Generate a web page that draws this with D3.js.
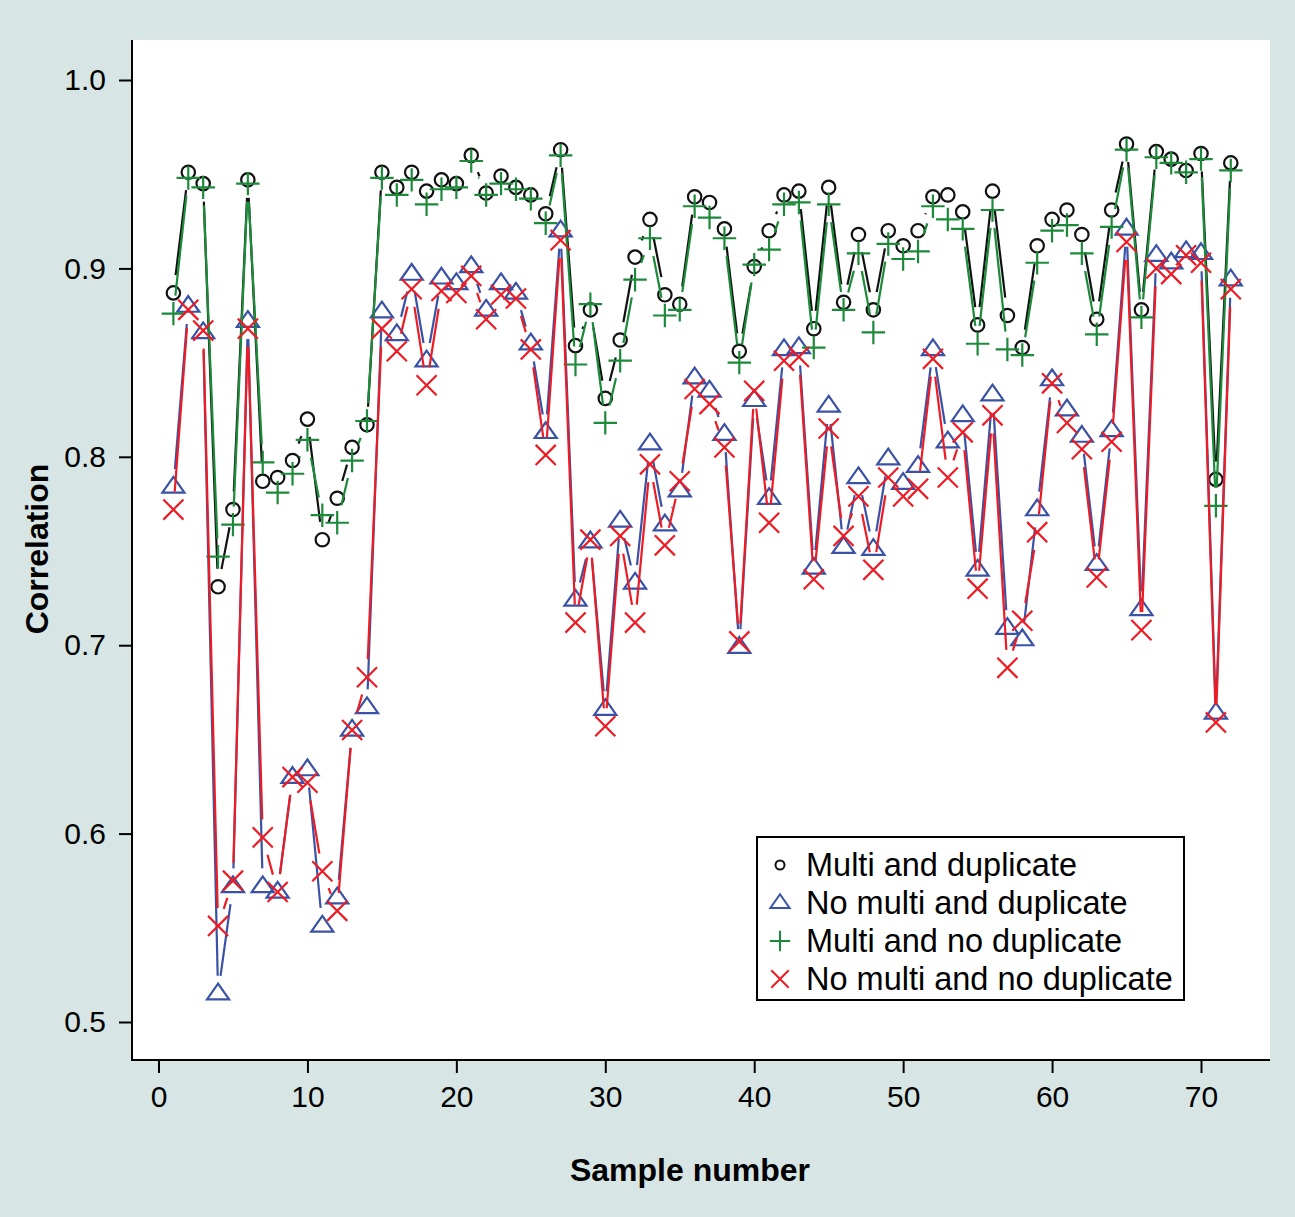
<!DOCTYPE html>
<html>
<head>
<meta charset="utf-8">
<script src="https://cdn.jsdelivr.net/npm/d3@7"></script>
<style>
  body { margin: 0; background: #d7e6e5; }
  svg { display: block; font-family: "Liberation Sans", Arial, sans-serif; }
</style>
</head>
<body>
<div id="chart"></div>
<script>
var svgWidth = 1295;
var svgHeight = 1217;

// sample numbers 1..72
var samples = [1,2,3,4,5,6,7,8,9,10,11,12,13,14,15,16,17,18,19,20,21,22,23,24,25,26,27,28,29,30,31,32,33,34,35,36,
  37,38,39,40,41,42,43,44,45,46,47,48,49,50,51,52,53,54,55,56,57,58,59,60,61,62,63,64,65,66,67,68,69,70,71,72];

var multiDup = [0.887,0.951,0.945,0.731,0.772,0.947,0.787,0.789,0.798,0.820,0.756,0.778,0.805,0.817,0.951,0.943,
  0.951,0.941,0.947,0.945,0.960,0.940,0.949,0.943,0.939,0.929,0.963,0.859,0.878,0.831,0.862,0.906,0.926,0.886,0.881,
  0.938,0.935,0.921,0.856,0.901,0.920,0.939,0.941,0.868,0.943,0.882,0.918,0.878,0.920,0.912,0.920,0.938,0.939,0.930,
  0.870,0.941,0.875,0.858,0.912,0.926,0.931,0.918,0.873,0.931,0.966,0.878,0.962,0.958,0.952,0.961,0.788,0.956];

var noMultiDup = [0.784,0.880,0.866,0.515,0.572,0.872,0.572,0.569,0.630,0.634,0.551,0.566,0.655,0.667,0.877,0.865,
  0.897,0.851,0.895,0.892,0.901,0.878,0.892,0.887,0.860,0.813,0.920,0.724,0.755,0.666,0.766,0.733,0.807,0.764,0.782,
  0.842,0.835,0.812,0.699,0.830,0.778,0.857,0.858,0.741,0.827,0.752,0.789,0.751,0.799,0.786,0.795,0.857,0.808,0.822,
  0.740,0.833,0.709,0.703,0.772,0.841,0.825,0.811,0.743,0.814,0.921,0.719,0.907,0.903,0.909,0.908,0.664,0.894];

var multiNoDup = [0.876,0.948,0.943,0.747,0.764,0.945,0.797,0.781,0.791,0.809,0.769,0.765,0.798,0.819,0.948,0.939,
  0.947,0.934,0.942,0.943,0.957,0.939,0.945,0.942,0.937,0.924,0.960,0.849,0.881,0.818,0.851,0.894,0.916,0.875,0.878,
  0.933,0.927,0.916,0.850,0.902,0.910,0.934,0.935,0.858,0.934,0.878,0.908,0.866,0.913,0.905,0.909,0.933,0.926,0.921,
  0.860,0.931,0.857,0.854,0.903,0.920,0.923,0.908,0.865,0.922,0.963,0.874,0.959,0.956,0.951,0.958,0.774,0.952];

var noMultiNoDup = [0.772,0.878,0.867,0.551,0.575,0.868,0.598,0.569,0.630,0.627,0.580,0.559,0.655,0.683,0.868,0.856,
  0.889,0.838,0.888,0.887,0.896,0.873,0.886,0.884,0.857,0.801,0.915,0.712,0.756,0.657,0.758,0.712,0.796,0.753,0.787,
  0.836,0.828,0.805,0.702,0.835,0.765,0.851,0.853,0.735,0.815,0.758,0.779,0.740,0.789,0.779,0.783,0.852,0.789,0.813,
  0.730,0.822,0.688,0.713,0.760,0.839,0.818,0.804,0.736,0.808,0.914,0.708,0.900,0.897,0.907,0.903,0.659,0.889];

var seriesNames = ["Multi and duplicate", "No multi and duplicate", "Multi and no duplicate", "No multi and no duplicate"];
var seriesColors = ["#111111", "#3a52a6", "#1c8a3a", "#ec1c24"];
var seriesShapes = ["circle", "triangle", "plus", "cross"];
var seriesValues = [multiDup, noMultiDup, multiNoDup, noMultiNoDup];

var xTicks = [0, 10, 20, 30, 40, 50, 60, 70];
var yTicks = [0.5, 0.6, 0.7, 0.8, 0.9, 1.0];

var panel = { left: 132, right: 1270, top: 40, bottom: 1060 };

var svg = d3.select("#chart")
  .append("svg")
  .attr("width", svgWidth)
  .attr("height", svgHeight);

svg.append("rect")
  .attr("width", svgWidth)
  .attr("height", svgHeight)
  .attr("fill", "#d7e6e5");

svg.append("rect")
  .attr("x", panel.left)
  .attr("y", panel.top)
  .attr("width", panel.right - panel.left)
  .attr("height", panel.bottom - panel.top)
  .attr("fill", "#ffffff");

var xScale = d3.scaleLinear().domain([0, 70]).range([158.5, 1201]);
var yScale = d3.scaleLinear().domain([0.5, 1.0]).range([1022, 80]);

// axes: ticks outside, box only on left and bottom
var xAxis = svg.append("g")
  .attr("transform", `translate(0, ${panel.bottom})`)
  .call(d3.axisBottom(xScale).tickValues(xTicks).tickSize(13).tickPadding(13).tickFormat(d3.format("d")));
xAxis.select(".domain").remove();

var yAxis = svg.append("g")
  .attr("transform", `translate(${panel.left}, 0)`)
  .call(d3.axisLeft(yScale).tickValues(yTicks).tickSize(13).tickPadding(13).tickFormat(d3.format(".1f")));
yAxis.select(".domain").remove();

svg.selectAll(".tick line").attr("stroke", "#000").attr("stroke-width", 2);
svg.selectAll(".tick text")
  .attr("fill", "#000")
  .style("font-size", "30px")
  .style("font-family", "Liberation Sans, Arial, sans-serif");

svg.append("path")
  .attr("d", `M${panel.left},${panel.top}V${panel.bottom}H${panel.right}`)
  .attr("fill", "none")
  .attr("stroke", "#000")
  .attr("stroke-width", 2);

// axis titles
svg.append("text")
  .attr("x", 690)
  .attr("y", 1181)
  .attr("text-anchor", "middle")
  .style("font-size", "32px")
  .style("font-weight", "bold")
  .text("Sample number");

svg.append("text")
  .attr("transform", "translate(48, 549) rotate(-90)")
  .attr("text-anchor", "middle")
  .style("font-size", "32px")
  .style("font-weight", "bold")
  .text("Correlation");

// marker path for a shape of a given size
function markerPath(shape, s) {
  if (shape === "circle") {
    return `M${-s},0A${s},${s} 0 1,0 ${s},0A${s},${s} 0 1,0 ${-s},0Z`;
  }
  if (shape === "triangle") {
    var w = s * 1.65, top = -s * 1.5, bot = s * 0.85;
    return `M0,${top}L${w},${bot}L${-w},${bot}Z`;
  }
  if (shape === "plus") {
    var p = s * 1.75;
    return `M${-p},0H${p}M0,${-p}V${p}`;
  }
  var c = s * 1.5;
  return `M${-c},${-c}L${c},${c}M${-c},${c}L${c},${-c}`;
}

var gap = 18;
var plotGroup = svg.append("g");

seriesValues.forEach(function(values, k) {
  var pts = samples.map((s, i) => [xScale(s), yScale(values[i])]);
  var segs = [];
  for (var i = 0; i < pts.length - 1; i++) {
    var dx = pts[i + 1][0] - pts[i][0];
    var dy = pts[i + 1][1] - pts[i][1];
    var d = Math.sqrt(dx * dx + dy * dy);
    if (d > 2 * gap) {
      var ux = dx / d, uy = dy / d;
      segs.push([pts[i][0] + ux * gap, pts[i][1] + uy * gap,
        pts[i + 1][0] - ux * gap, pts[i + 1][1] - uy * gap]);
    }
  }

  var g = plotGroup.append("g");

  g.selectAll("line")
    .data(segs)
    .enter()
    .append("line")
    .attr("x1", d => d[0])
    .attr("y1", d => d[1])
    .attr("x2", d => d[2])
    .attr("y2", d => d[3])
    .attr("stroke", seriesColors[k])
    .attr("stroke-width", 2.2);

  g.selectAll("path")
    .data(pts)
    .enter()
    .append("path")
    .attr("transform", d => `translate(${d[0]},${d[1]})`)
    .attr("d", markerPath(seriesShapes[k], 6.7))
    .attr("fill", "none")
    .attr("stroke", seriesColors[k])
    .attr("stroke-width", 2.2);
});

// legend
var legend = svg.append("g");

legend.append("rect")
  .attr("x", 757)
  .attr("y", 837)
  .attr("width", 427)
  .attr("height", 163)
  .attr("fill", "#fff")
  .attr("stroke", "#000")
  .attr("stroke-width", 2);

var rows = legend.selectAll(".row")
  .data(seriesNames)
  .enter()
  .append("g")
  .attr("class", "row")
  .attr("transform", (d, i) => `translate(780, ${865 + i * 38})`);

rows.append("path")
  .attr("d", (d, i) => markerPath(seriesShapes[i], i === 0 ? 4.5 : 5.8))
  .attr("fill", "none")
  .attr("stroke", (d, i) => seriesColors[i])
  .attr("stroke-width", 2);

rows.append("text")
  .attr("x", 26)
  .attr("y", 11)
  .style("font-size", "32.5px")
  .text(d => d);
</script>
</body>
</html>
